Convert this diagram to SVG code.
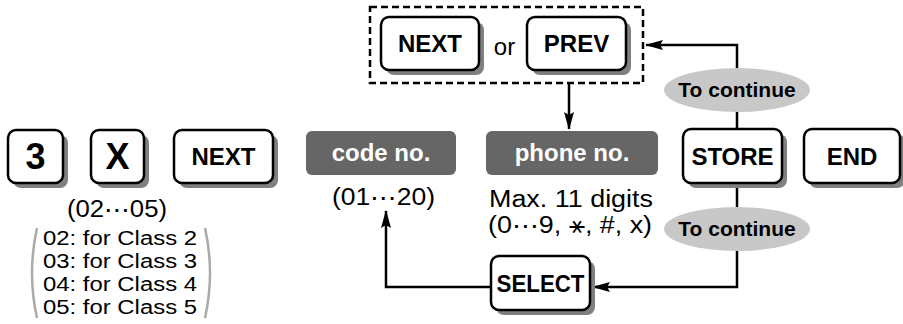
<svg xmlns="http://www.w3.org/2000/svg" width="903" height="324" viewBox="0 0 903 324">
<defs>
<style>
.key{fill:#fff;stroke:#000;stroke-width:2.5}
.sh{fill:#808080}
.kt{font-family:"Liberation Sans",Arial,sans-serif;font-weight:bold;font-size:24px;fill:#000;text-anchor:middle}
.big{font-size:36px}
.gbox{fill:#666}
.gt{font-family:"Liberation Sans",Arial,sans-serif;font-weight:bold;font-size:24px;fill:#fff;text-anchor:middle}
.t{font-family:"Liberation Sans",Arial,sans-serif;font-size:23px;fill:#000}
.cl{font-size:20px}
.ell{fill:#c8c8c8}
.et{font-family:"Liberation Sans",Arial,sans-serif;font-weight:bold;font-size:21px;fill:#000;text-anchor:middle}
.ln{fill:none;stroke:#000;stroke-width:2.5}
.br{fill:none;stroke:#aaa;stroke-width:2.5}
</style>
<marker id="ah" viewBox="0 0 18 10" refX="17" refY="5" markerWidth="18" markerHeight="10" markerUnits="userSpaceOnUse" orient="auto">
<path d="M0,0 L18,5 L0,10 L3,5 Z" fill="#000"/>
</marker>
</defs>

<g id="connectors">
<polyline class="ln" points="737,129 737,45 646,45" marker-end="url(#ah)"/>
<polyline class="ln" points="569,83 569,129" marker-end="url(#ah)"/>
<polyline class="ln" points="737,183 737,287 593,287" marker-end="url(#ah)"/>
<polyline class="ln" points="491,287 386,287 386,211" marker-end="url(#ah)"/>
</g>

<g id="group-nextprev">
<rect x="370" y="7" width="273" height="76" fill="none" stroke="#000" stroke-width="2.5" stroke-dasharray="7,4"/>
</g>

<g id="key-3">
<rect class="sh" x="13" y="135" width="55" height="53" rx="8"/>
<rect class="key" x="8" y="130" width="55" height="53" rx="8"/>
<text class="kt big" x="35.5" y="169">3</text>
</g>
<g id="key-X">
<rect class="sh" x="96" y="135" width="53" height="53" rx="8"/>
<rect class="key" x="91" y="130" width="53" height="53" rx="8"/>
<text class="kt big" x="117.5" y="169">X</text>
</g>
<g id="key-NEXT">
<rect class="sh" x="179" y="135" width="99" height="53" rx="8"/>
<rect class="key" x="174" y="130" width="99" height="53" rx="8"/>
<text class="kt" x="223.5" y="165">NEXT</text>
</g>
<g id="key-NEXT2">
<rect class="sh" x="386" y="22" width="98" height="53" rx="8"/>
<rect class="key" x="381" y="17" width="98" height="53" rx="8"/>
<text class="kt" x="430" y="52">NEXT</text>
</g>
<g id="label-or">
<text class="t" x="504.5" y="55" text-anchor="middle" style="font-size:24px">or</text>
</g>
<g id="key-PREV">
<rect class="sh" x="532" y="22" width="99" height="53" rx="8"/>
<rect class="key" x="527" y="17" width="99" height="53" rx="8"/>
<text class="kt" x="576.5" y="52">PREV</text>
</g>
<g id="key-STORE">
<rect class="sh" x="688" y="134" width="99" height="54" rx="8"/>
<rect class="key" x="683" y="129" width="99" height="54" rx="8"/>
<text class="kt" x="732.5" y="165">STORE</text>
</g>
<g id="key-END">
<rect class="sh" x="809" y="134" width="96" height="54" rx="8"/>
<rect class="key" x="804" y="129" width="96" height="54" rx="8"/>
<text class="kt" x="852" y="165">END</text>
</g>
<g id="key-SELECT">
<rect class="sh" x="496" y="261" width="99" height="54" rx="8"/>
<rect class="key" x="491" y="256" width="99" height="54" rx="8"/>
<text class="kt" x="540.5" y="292" textLength="88" lengthAdjust="spacingAndGlyphs">SELECT</text>
</g>

<g id="box-code">
<rect class="gbox" x="306" y="131" width="150" height="44" rx="6"/>
<text class="gt" x="381" y="161">code no.</text>
</g>
<g id="box-phone">
<rect class="gbox" x="486" y="131" width="172" height="44" rx="6"/>
<text class="gt" x="572" y="161">phone no.</text>
</g>

<g id="cont-top">
<ellipse class="ell" cx="737" cy="90" rx="73" ry="22"/>
<text class="et" x="737" y="97">To continue</text>
</g>
<g id="cont-bottom">
<ellipse class="ell" cx="737" cy="229" rx="73" ry="22"/>
<text class="et" x="737" y="236">To continue</text>
</g>

<g id="notes-class">
<text class="t" x="67" y="217" textLength="100" lengthAdjust="spacingAndGlyphs">(02⋯05)</text>
<text class="t cl" x="43" y="245" textLength="154" lengthAdjust="spacingAndGlyphs">02: for Class 2</text>
<text class="t cl" x="43" y="268" textLength="154" lengthAdjust="spacingAndGlyphs">03: for Class 3</text>
<text class="t cl" x="43" y="291" textLength="154" lengthAdjust="spacingAndGlyphs">04: for Class 4</text>
<text class="t cl" x="43" y="314" textLength="154" lengthAdjust="spacingAndGlyphs">05: for Class 5</text>
<path class="br" d="M37,228 Q27,273 37,318"/>
<path class="br" d="M205,228 Q215,273 205,318"/>
</g>
<g id="notes-code">
<text class="t" x="332" y="205" textLength="103" lengthAdjust="spacingAndGlyphs">(01⋯20)</text>
</g>
<g id="notes-phone">
<text class="t" x="489" y="207" textLength="164" lengthAdjust="spacingAndGlyphs">Max. 11 digits</text>
<text class="t" x="488" y="233" textLength="164" lengthAdjust="spacingAndGlyphs">(0⋯9, ⚹, #, x)</text>
</g>
</svg>
